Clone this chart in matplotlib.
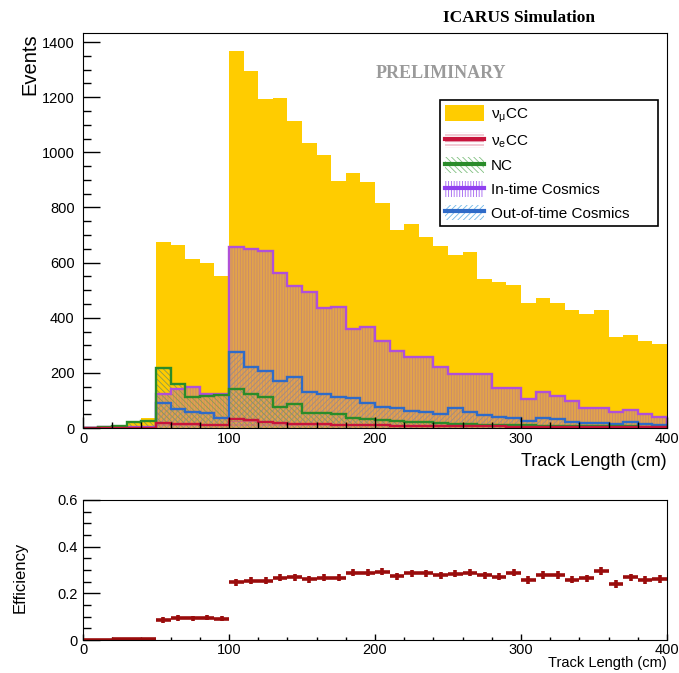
import numpy as np
import matplotlib
matplotlib.use("Agg")
import matplotlib.pyplot as plt
from matplotlib.patches import Patch
from matplotlib.lines import Line2D
from matplotlib.ticker import MultipleLocator

plt.rcParams['font.family'] = ['Liberation Sans', 'DejaVu Sans']
plt.rcParams['mathtext.fontset'] = 'custom'
plt.rcParams['mathtext.rm'] = 'Liberation Sans'
plt.rcParams['mathtext.it'] = 'Liberation Sans'
plt.rcParams['hatch.linewidth'] = 0.6

# ---------------- data ----------------
bin_edges = np.arange(0, 401, 10)

numu_cc = [0, 3, 8, 20, 38,
           673, 665, 613, 597, 553,
           1367, 1296, 1192, 1199, 1115, 1033, 990, 897, 924, 893,
           817, 720, 740, 692, 661, 627, 637, 539, 531, 519,
           455, 473, 455, 428, 413, 428, 331, 337, 316, 303]

intime_cosmics = [1, 2, 2, 3, 3,
                  123, 140, 150, 122, 122,
                  655, 648, 642, 561, 515, 492, 434, 438, 358, 367,
                  317, 280, 256, 256, 220, 195, 195, 195, 146, 146,
                  105, 129, 116, 98, 71, 71, 59, 65, 51, 41]

outtime_cosmics = [0, 0, 0, 1, 1,
                   90, 69, 59, 56, 35,
                   277, 222, 208, 172, 184, 129, 123, 114, 108, 92,
                   77, 71, 63, 57, 51, 71, 59, 47, 41, 37,
                   27, 35, 31, 23, 17, 17, 15, 20, 14, 12]

nc = [0, 2, 8, 22, 25,
      219, 160, 111, 116, 118,
      141, 123, 114, 77, 87, 53, 53, 51, 35, 34,
      29, 27, 23, 20, 18, 14, 13, 12, 11, 10,
      10, 9, 8, 8, 7, 7, 6, 6, 5, 5]

nue_cc = [0, 0, 0, 1, 1,
          18, 16, 14, 12, 10,
          33, 29, 22, 18, 15, 14, 13, 12, 11, 10,
          10, 9, 9, 8, 8, 7, 7, 6, 6, 5,
          5, 5, 4, 4, 4, 3, 3, 3, 3, 2]

efficiency = [0.0, 0.0, 0.004, 0.004, 0.004,
              0.086, 0.095, 0.093, 0.096, 0.092,
              0.247, 0.254, 0.254, 0.267, 0.270, 0.261, 0.266, 0.266, 0.288, 0.288,
              0.293, 0.273, 0.287, 0.287, 0.277, 0.283, 0.289, 0.278, 0.271, 0.289,
              0.258, 0.279, 0.279, 0.259, 0.264, 0.295, 0.241, 0.268, 0.257, 0.262]

efficiency_err = [0.004, 0.004, 0.005, 0.005, 0.005,
                  0.012, 0.012, 0.012, 0.012, 0.012,
                  0.015, 0.015, 0.015, 0.015, 0.015, 0.015, 0.015, 0.015, 0.015, 0.015,
                  0.015, 0.015, 0.015, 0.015, 0.015, 0.015, 0.015, 0.015, 0.015, 0.015,
                  0.016, 0.016, 0.016, 0.016, 0.016, 0.016, 0.016, 0.016, 0.016, 0.016]

labels = ['ν$_{\\mu}$CC', 'ν$_{e}$CC', 'NC', 'In-time Cosmics', 'Out-of-time Cosmics']

# ---------------- styles ----------------
c_numu = '#FFCC00'
c_nue = '#C8143C'
c_nc = '#2A8C2A'
c_intime = '#B050D8'
c_outtime = '#2F6BC8'

W, H = 679, 673
fig = plt.figure(figsize=(W / 100, H / 100), dpi=100)
ax1 = fig.add_axes([83 / W, 1 - 428 / H, 584 / W, 395 / H])
ax2 = fig.add_axes([83 / W, 1 - 640 / H, 584 / W, 140 / H])

edges = np.asarray(bin_edges)

# filled areas
ax1.stairs(numu_cc, edges, fill=True, facecolor=c_numu, edgecolor=c_numu, lw=0)
ax1.stairs(intime_cosmics, edges, fill=True, facecolor='#E2A34A', edgecolor='#C98A6E',
           hatch='||||||', lw=0)
ax1.stairs(outtime_cosmics, edges, fill=True, facecolor='none', edgecolor='#9C8E86',
           hatch='//////', lw=0)
ax1.stairs(nc, edges, fill=True, facecolor='none', edgecolor='#8C9A50',
           hatch='\\\\\\\\\\\\', lw=0)
ax1.stairs(nue_cc, edges, fill=True, facecolor='none', edgecolor='#D0607A',
           hatch='-----', lw=0)

# outlines
ax1.stairs(intime_cosmics, edges, fill=False, color=c_intime, lw=1.7)
ax1.stairs(outtime_cosmics, edges, fill=False, color=c_outtime, lw=1.7)
ax1.stairs(nc, edges, fill=False, color=c_nc, lw=1.7)
ax1.stairs(nue_cc, edges, fill=False, color=c_nue, lw=1.7)

ax1.set_xlim(0, 400)
ax1.set_ylim(0, 1433)
ax1.xaxis.set_major_locator(MultipleLocator(100))
ax1.xaxis.set_minor_locator(MultipleLocator(20))
ax1.yaxis.set_major_locator(MultipleLocator(200))
ax1.yaxis.set_minor_locator(MultipleLocator(50))
ax1.tick_params(axis='both', which='both', direction='in', top=False, right=False,
                labelsize=10.5, width=1)
ax1.tick_params(axis='y', which='major', length=12, pad=6)
ax1.tick_params(axis='y', which='minor', length=6)
ax1.tick_params(axis='x', which='major', length=8, pad=3)
ax1.tick_params(axis='x', which='minor', length=4)

# legend
handles = [
    Patch(facecolor=c_numu, edgecolor='none'),
    (Patch(facecolor='white', edgecolor='#E08098', hatch='-----', lw=0),
     Line2D([], [], color=c_nue, lw=3)),
    (Patch(facecolor='white', edgecolor='#80C080', hatch='\\\\\\\\\\\\', lw=0),
     Line2D([], [], color=c_nc, lw=3)),
    (Patch(facecolor='white', edgecolor='#A060F0', hatch='||||||', lw=0),
     Line2D([], [], color='#9040F0', lw=3)),
    (Patch(facecolor='white', edgecolor='#70B8E8', hatch='//////', lw=0),
     Line2D([], [], color=c_outtime, lw=3)),
]
leg = ax1.legend(handles, labels, loc='upper left',
                 bbox_to_anchor=(440 / W, 1 - 232 / H, 218 / W, 132 / H),
                 bbox_transform=fig.transFigure, mode='expand',
                 fancybox=False, frameon=True, edgecolor='black', framealpha=1,
                 fontsize=11, handlelength=2.5, handleheight=1.2,
                 labelspacing=0.5, handletextpad=0.5, borderpad=0.35,
                 borderaxespad=0)
leg.get_frame().set_linewidth(1.2)

# efficiency panel
centers = 0.5 * (edges[:-1] + edges[1:])
half_w = 0.5 * np.diff(edges)
ax2.errorbar(centers, efficiency, xerr=half_w, yerr=efficiency_err, fmt='none',
             ecolor='#9A0C0C', elinewidth=2.6, capsize=0)
ax2.set_xlim(0, 400)
ax2.set_ylim(0, 0.6)
ax2.xaxis.set_major_locator(MultipleLocator(100))
ax2.xaxis.set_minor_locator(MultipleLocator(20))
ax2.yaxis.set_major_locator(MultipleLocator(0.2))
ax2.yaxis.set_minor_locator(MultipleLocator(0.05))
ax2.set_yticks([0, 0.2, 0.4, 0.6])
ax2.set_yticklabels(['0', '0.2', '0.4', '0.6'])
ax2.tick_params(axis='both', which='both', direction='in', top=False, right=False,
                labelsize=10.5, width=1)
ax2.tick_params(axis='y', which='major', length=12, pad=4)
ax2.tick_params(axis='y', which='minor', length=6)
ax2.tick_params(axis='x', which='major', length=4, pad=2)
ax2.tick_params(axis='x', which='minor', length=2)

# texts
fig.text(30 / W, 1 - 33 / H, 'Events', rotation=90, ha='center', va='top', fontsize=14.5)
fig.text(667 / W, 1 - 462 / H, 'Track Length (cm)', ha='right', va='center', fontsize=13)
fig.text(20 / W, 1 - 577 / H, 'Efficiency', rotation=90, ha='center', va='center',
         fontsize=12)
fig.text(667 / W, 1 - 663 / H, 'Track Length (cm)', ha='right', va='center', fontsize=10.5)
fig.text(519 / W, 1 - 18 / H, 'ICARUS Simulation', family='Liberation Serif',
         weight='bold', fontsize=12.5, ha='center', va='center')
fig.text(441 / W, 1 - 73 / H, 'PRELIMINARY', family='Liberation Serif', weight='bold',
         color='#9A9A9A', fontsize=13, ha='center', va='center')

fig.savefig('out.png', dpi=100)
